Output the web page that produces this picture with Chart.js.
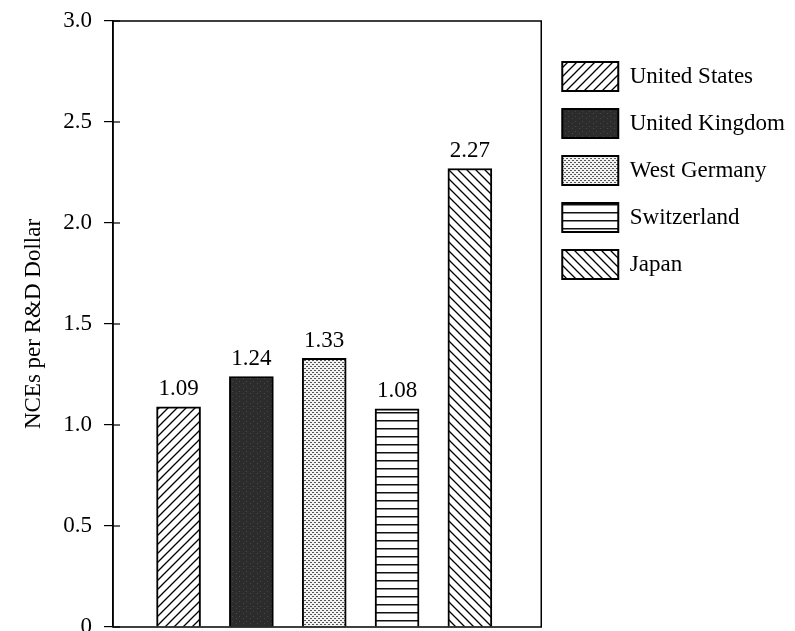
<!DOCTYPE html>
<html>
<head>
<meta charset="utf-8">
<script src="https://cdn.jsdelivr.net/npm/chart.js@4/dist/chart.umd.min.js"></script>
<style>
  html, body { margin: 0; padding: 0; background: #fff; }
  #chart { display: block; }
</style>
</head>
<body>
<canvas id="chart" width="795" height="631"></canvas>
<script>
// datos del grafico
const countries = ['United States', 'United Kingdom', 'West Germany', 'Switzerland', 'Japan'];
const ratios = [1.09, 1.24, 1.33, 1.08, 2.27];
const fills = ['up', 'dark', 'dots', 'lines', 'down'];
const axisTitle = 'NCEs per R&D Dollar';

const serif = "'Liberation Serif', 'Times New Roman', serif";

// tramas para las barras
function makeFill(kind) {
    const c = document.createElement('canvas');
    const g = c.getContext('2d');
    if (kind === 'dark') {
        c.width = 7; c.height = 5;
        g.fillStyle = '#2c2c2c'; g.fillRect(0, 0, 7, 5);
        g.fillStyle = '#474747'; g.fillRect(1, 1, 1, 1); g.fillRect(5, 3, 1, 1);
        return g.createPattern(c, 'repeat');
    }
    if (kind === 'dots') {
        c.width = 4; c.height = 4;
        g.fillStyle = '#f2f2f2'; g.fillRect(0, 0, 4, 4);
        g.fillStyle = '#555';
        g.fillRect(0, 0, 2, 1); g.fillRect(2, 2, 2, 1);
        return g.createPattern(c, 'repeat');
    }
    if (kind === 'lines') {
        c.width = 8; c.height = 8;
        g.fillStyle = '#fff'; g.fillRect(0, 0, 8, 8);
        g.fillStyle = '#111'; g.fillRect(0, 4, 8, 1.5);
        return g.createPattern(c, 'repeat');
    }
    const s = 9;
    c.width = s; c.height = s;
    g.fillStyle = '#fff'; g.fillRect(0, 0, s, s);
    g.strokeStyle = '#000'; g.lineWidth = 1.3;
    g.beginPath();
    if (kind === 'up') {
        g.moveTo(0, s); g.lineTo(s, 0);
        g.moveTo(-1, 1); g.lineTo(1, -1);
        g.moveTo(s - 1, s + 1); g.lineTo(s + 1, s - 1);
    } else {
        g.moveTo(0, 0); g.lineTo(s, s);
        g.moveTo(-1, s - 1); g.lineTo(1, s + 1);
        g.moveTo(s - 1, -1); g.lineTo(s + 1, 1);
    }
    g.stroke();
    return g.createPattern(c, 'repeat');
}

// marco del area de dibujo + marcas interiores del eje y
const framePlugin = {
    id: 'frame',
    afterDraw(chart) {
        const {ctx, chartArea: a} = chart;
        const y = chart.scales.y;
        ctx.save();
        ctx.strokeStyle = '#000';
        ctx.lineWidth = 1.5;
        ctx.strokeRect(a.left, a.top, a.right - a.left, a.bottom - a.top);
        ctx.lineWidth = 1.2;
        y.ticks.forEach(t => {
            const py = y.getPixelForValue(t.value);
            ctx.beginPath();
            ctx.moveTo(a.left, py);
            ctx.lineTo(a.left + 7, py);
            ctx.stroke();
        });
        ctx.restore();
    }
};

// etiquetas de valor encima de las barras
const valueLabels = {
    id: 'valueLabels',
    afterDatasetsDraw(chart) {
        const ctx = chart.ctx;
        ctx.save();
        ctx.fillStyle = '#000';
        ctx.font = '23px ' + serif;
        ctx.textAlign = 'center';
        ctx.textBaseline = 'bottom';
        chart.data.datasets.forEach((ds, i) => {
            const bar = chart.getDatasetMeta(i).data[0];
            ctx.fillText(ds.data[0].y.toFixed(2), bar.x, bar.y - 6);
        });
        ctx.restore();
    }
};

const datasets = countries.map((name, i) => ({
    label: name,
    data: [{x: i + 1, y: ratios[i]}],
    backgroundColor: makeFill(fills[i]),
    borderColor: '#000',
    borderWidth: 2,
    barThickness: 44,
    grouped: false
}));

new Chart(document.getElementById('chart'), {
    type: 'bar',
    data: {datasets: datasets},
    options: {
        responsive: false,
        animation: false,
        layout: {padding: {top: 21, bottom: 4, left: 0, right: 0}},
        scales: {
            x: {
                type: 'linear',
                display: false,
                offset: false,
                min: 0.1,
                max: 5.98
            },
            y: {
                min: 0,
                max: 3,
                ticks: {
                    stepSize: 0.5,
                    color: '#000',
                    padding: 12,
                    font: {family: serif, size: 23},
                    callback: v => v === 0 ? '0' : v.toFixed(1)
                },
                grid: {
                    drawOnChartArea: false,
                    drawTicks: true,
                    tickLength: 9,
                    color: '#000',
                    lineWidth: 1.2
                },
                border: {display: true, color: '#000', width: 1.5},
                title: {
                    display: true,
                    text: axisTitle,
                    color: '#000',
                    font: {family: serif, size: 23},
                    padding: {top: 20, bottom: 0}
                },
                afterFit(scale) {
                    scale.width = 113;
                    scale.paddingTop = 0;
                    scale.paddingBottom = 0;
                }
            },
            gap: {
                position: 'right',
                display: true,
                grid: {display: false},
                ticks: {display: false},
                border: {display: false},
                afterFit(scale) { scale.width = 3; }
            }
        },
        plugins: {
            legend: {
                position: 'right',
                align: 'start',
                maxWidth: 300,
                title: {display: true, text: '', font: {size: 1, lineHeight: 1}, padding: {top: 22, bottom: 0}},
                labels: {
                    boxWidth: 56,
                    boxHeight: 29,
                    padding: 18,
                    color: '#000',
                    font: {family: serif, size: 23}
                }
            },
            tooltip: {enabled: false}
        }
    },
    plugins: [framePlugin, valueLabels]
});
</script>
</body>
</html>
